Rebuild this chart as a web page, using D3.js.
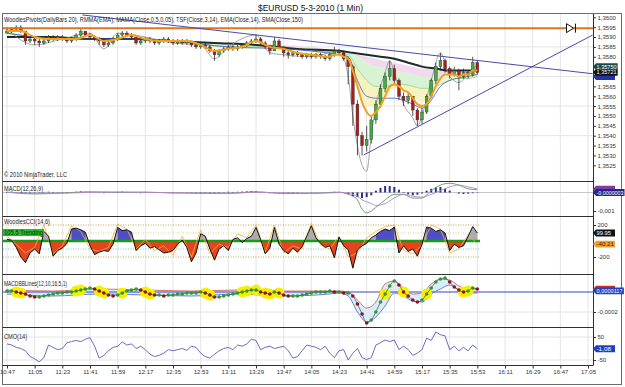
<!DOCTYPE html>
<html>
<head>
<meta charset="utf-8">
<script src="https://cdn.jsdelivr.net/npm/d3@7"></script>
<style>
  body { margin: 0; background: #fff; }
  svg { display: block; font-family: "Liberation Sans", Arial, sans-serif; }
</style>
</head>
<body>
<svg id="chart" width="625" height="387"></svg>
<script>
// ---- data (one candle = 3 minutes, index k) ----
const tickLabels = ['10:47', '11:05', '11:23', '11:41', '11:59', '12:17', '12:35', '12:53', '13:11', '13:29', '13:47',
  '14:05', '14:23', '14:41', '14:59', '15:17', '15:35', '15:53', '16:11', '16:29', '16:47', '17:05']
// 1,3570 and 1,3575 sit under the last-value boxes in the original
const priceTicks = [1.3525, 1.3530, 1.3535, 1.3540, 1.3545, 1.3550, 1.3555, 1.3560, 1.3565,
  1.3580, 1.3585, 1.3590, 1.3595, 1.3600]
const priceGrid = [1.3540, 1.3555, 1.3570, 1.3585]
const barMinutes = 3
const firstOpen = 1.3592

const close = [1.3593, 1.3594, 1.3595, 1.3593, 1.3588, 1.3589, 1.3588, 1.3587, 1.3588, 1.3590,
  1.3589, 1.3590, 1.3589, 1.3588, 1.3589, 1.3591, 1.3593, 1.3591, 1.3590, 1.3589,
  1.3588, 1.3586, 1.3587, 1.3589, 1.3591, 1.3592, 1.3591, 1.3590, 1.3587, 1.3588,
  1.3589, 1.3588, 1.3587, 1.3588, 1.3589, 1.3588, 1.3587, 1.3588, 1.3587, 1.3588,
  1.3586, 1.3585, 1.3586, 1.3585, 1.3583, 1.3581, 1.3583, 1.3584, 1.3585, 1.3584,
  1.3585, 1.3586, 1.3587, 1.3588, 1.3589, 1.3587, 1.3585, 1.3583, 1.3588, 1.3585,
  1.3582, 1.3581, 1.3582, 1.3581, 1.3580, 1.3581, 1.3580, 1.3581, 1.3580, 1.3579,
  1.3581, 1.3583, 1.3582, 1.3579, 1.3575, 1.3556, 1.3540, 1.3535, 1.3538, 1.3548,
  1.3556, 1.3564, 1.3570, 1.3574, 1.3568, 1.3560, 1.3558, 1.3560, 1.3553, 1.3548,
  1.3552, 1.3560, 1.3568, 1.3575, 1.3578, 1.3574, 1.3571, 1.3573, 1.3570, 1.3572,
  1.3571, 1.3577, 1.3572]
const high = [1.3595, 1.3595, 1.3596, 1.3596, 1.3593, 1.3590, 1.3590, 1.3589, 1.3589, 1.3591,
  1.3591, 1.3591, 1.3591, 1.3590, 1.3590, 1.3592, 1.3594, 1.3593, 1.3592, 1.3591,
  1.3590, 1.3588, 1.3588, 1.3590, 1.3592, 1.3593, 1.3593, 1.3592, 1.3590, 1.3589,
  1.3590, 1.3590, 1.3589, 1.3589, 1.3590, 1.3590, 1.3589, 1.3589, 1.3589, 1.3589,
  1.3588, 1.3587, 1.3587, 1.3587, 1.3586, 1.3584, 1.3584, 1.3585, 1.3586, 1.3586,
  1.3586, 1.3587, 1.3588, 1.3589, 1.3591, 1.3590, 1.3588, 1.3585, 1.3590, 1.3589,
  1.3585, 1.3583, 1.3583, 1.3583, 1.3582, 1.3582, 1.3582, 1.3582, 1.3582, 1.3581,
  1.3582, 1.3585, 1.3584, 1.3583, 1.3580, 1.3576, 1.3558, 1.3542, 1.3545, 1.3550,
  1.3558, 1.3566, 1.3572, 1.3578, 1.3576, 1.3569, 1.3562, 1.3562, 1.3560, 1.3554,
  1.3554, 1.3561, 1.3569, 1.3577, 1.3582, 1.3579, 1.3575, 1.3575, 1.3574, 1.3574,
  1.3573, 1.3580, 1.3578]
const low = [1.3592, 1.3592, 1.3593, 1.3592, 1.3586, 1.3587, 1.3586, 1.3585, 1.3586, 1.3587,
  1.3588, 1.3588, 1.3588, 1.3587, 1.3587, 1.3588, 1.3590, 1.3590, 1.3589, 1.3588,
  1.3586, 1.3585, 1.3585, 1.3586, 1.3588, 1.3590, 1.3590, 1.3589, 1.3586, 1.3586,
  1.3587, 1.3587, 1.3586, 1.3586, 1.3587, 1.3587, 1.3586, 1.3586, 1.3586, 1.3586,
  1.3585, 1.3584, 1.3584, 1.3584, 1.3582, 1.3578, 1.3580, 1.3582, 1.3583, 1.3583,
  1.3583, 1.3584, 1.3585, 1.3586, 1.3587, 1.3586, 1.3584, 1.3581, 1.3583, 1.3584,
  1.3580, 1.3579, 1.3580, 1.3580, 1.3579, 1.3579, 1.3579, 1.3579, 1.3579, 1.3578,
  1.3578, 1.3580, 1.3581, 1.3578, 1.3566, 1.3545, 1.3530, 1.3530, 1.3532, 1.3536,
  1.3546, 1.3554, 1.3562, 1.3568, 1.3566, 1.3558, 1.3555, 1.3556, 1.3550, 1.3545,
  1.3546, 1.3551, 1.3559, 1.3566, 1.3573, 1.3572, 1.3569, 1.3570, 1.3563, 1.3569,
  1.3569, 1.3570, 1.3571]

// overlays in the price panel (k index + value)
const emaAt = d3.range(0, 70, 3).concat(d3.range(70, 103))
const ema = [1.3593, 1.3593, 1.3590, 1.3589, 1.3589, 1.3589, 1.3591, 1.3588, 1.3589, 1.3591, 1.3589, 1.3588,
  1.3588, 1.3588, 1.3586, 1.3583, 1.3584, 1.3585, 1.3588, 1.3585, 1.3584, 1.3582, 1.3581, 1.3580,
  1.3580, 1.3581, 1.3581, 1.3580, 1.3579, 1.3573, 1.3565, 1.3557, 1.3552, 1.3550, 1.3552, 1.3555,
  1.3560, 1.3565, 1.3566, 1.3565, 1.3563, 1.3562, 1.3559, 1.3556, 1.3555, 1.3556, 1.3560, 1.3565,
  1.3569, 1.3571, 1.3571, 1.3571, 1.3570, 1.3571, 1.3571, 1.3573, 1.3573]
const smaAt = [0, 9, 18, 27, 36, 45, 54, 63, 72, 75, 78, 81, 84, 87, 90, 93, 96, 99, 102]
const sma = [1.3590, 1.3590, 1.3589, 1.3589, 1.3588, 1.3587, 1.3586, 1.3584, 1.3583, 1.3582, 1.3581,
  1.3580, 1.3579, 1.3577, 1.3575, 1.3574, 1.3573, 1.3573, 1.3573]
const ribbonAt = [0, 12, 24, 36, 48, 60, 66, 72, 74, 76, 78, 80, 82, 84, 86, 88, 90, 92, 94, 96, 98, 100, 102]
const ribbon1 = [1.3590, 1.3589, 1.3589, 1.3588, 1.3587, 1.3586, 1.3585, 1.3583, 1.3582, 1.3581, 1.3580, 1.3579,
  1.3578, 1.3577, 1.3576, 1.3575, 1.3574, 1.3574, 1.3573, 1.3573, 1.3573, 1.3572, 1.3572]
const ribbon2 = [1.3591, 1.3589, 1.3589, 1.3588, 1.3586, 1.3585, 1.3584, 1.3583, 1.3583, 1.3580, 1.3577, 1.3575,
  1.3574, 1.3573, 1.3572, 1.3571, 1.3570, 1.3570, 1.3570, 1.3571, 1.3571, 1.3571, 1.3571]
const ribbon3 = [1.3592, 1.3589, 1.3589, 1.3588, 1.3585, 1.3585, 1.3583, 1.3582, 1.3581, 1.3574, 1.3568, 1.3565,
  1.3565, 1.3566, 1.3566, 1.3565, 1.3564, 1.3564, 1.3566, 1.3568, 1.3569, 1.3569, 1.3570]
const ribbon4 = [1.3593, 1.3589, 1.3589, 1.3588, 1.3584, 1.3584, 1.3582, 1.3581, 1.3579, 1.3566, 1.3555, 1.3554,
  1.3559, 1.3564, 1.3563, 1.3560, 1.3557, 1.3561, 1.3567, 1.3570, 1.3570, 1.3570, 1.3571]
const mamaAt = [0, 12, 24, 36, 48, 60, 72, 74, 76, 78, 80, 84, 88, 90, 92, 94, 96, 100, 102]
const mama = [1.3592, 1.3589, 1.3589, 1.3588, 1.3585, 1.3584, 1.3581, 1.3580, 1.3568, 1.3560, 1.3559, 1.3559,
  1.3556, 1.3554, 1.3558, 1.3565, 1.3568, 1.3570, 1.3571]
const tsfAt = [0, 6, 12, 18, 21, 24, 30, 36, 42, 45, 48, 54, 57, 60, 66, 72, 74, 75, 76, 77, 78, 79, 80, 82, 83,
  84, 86, 88, 89, 90, 92, 94, 96, 98, 100, 102]
const tsf = [1.3594, 1.3586, 1.3589, 1.3592, 1.3584, 1.3592, 1.3590, 1.3587, 1.3586, 1.3579, 1.3585, 1.3591,
  1.3582, 1.3581, 1.3580, 1.3583, 1.3570, 1.3550, 1.3535, 1.3525, 1.3522, 1.3540, 1.3555, 1.3572, 1.3578,
  1.3572, 1.3556, 1.3549, 1.3545, 1.3550, 1.3568, 1.3582, 1.3570, 1.3567, 1.3571, 1.3576]
const pivotLevel = 1.35945
const trendLines = [
  [['11:36', 1.36012], ['17:08', 1.35714]],
  [['14:39', 1.35302], ['17:08', 1.35910]]
]

// MACD(12,26,9)
const macdAt = [0, 6, 12, 18, 24, 30, 36, 42, 48, 54, 60, 66, 70, 72, 74, 75, 76, 77, 78, 79, 80, 82, 84, 86, 88,
  90, 92, 94, 96, 98, 100, 102]
const macdLine = [0.00002, -0.00008, -0.00003, 0.00004, 0.00001, 0.00002, -0.00003, -0.00004, -0.00005, 0.00004,
  -0.00006, -0.00005, 0, 0.00002, -0.0001, -0.0002, -0.0004, -0.0009, -0.0011, -0.0010, -0.0008, -0.0004,
  -0.0001, -0.0001, -0.0003, -0.0003, 0.0001, 0.0004, 0.0005, 0.0004, 0.0002, 0.00015]
const macdSignal = [0.00001, -0.00004, -0.00004, 0.00001, 0.00002, 0.00001, -0.00001, -0.00003, -0.00004, 0.00001,
  -0.00002, -0.00004, -0.00002, 0, -0.00003, -0.0001, -0.0002, -0.0004, -0.0005, -0.0006, -0.0007, -0.0006,
  -0.0003, -0.0001, -0.0002, -0.00025, -0.0001, 0.0001, 0.0003, 0.0004, 0.0003, 0.0002]
const macdHistE4 = [0.3, 0.5, 0.2, -0.3, -0.5, -0.6, -0.4, -0.2, 0.2, 0.4,
  0.3, 0.2, -0.2, -0.3, 0.1, 0.4, 0.6, 0.4, 0.2, -0.1,
  -0.3, -0.4, -0.2, 0.2, 0.4, 0.5, 0.3, 0.1, -0.3, -0.4,
  -0.2, 0.1, 0.2, 0.1, -0.1, -0.2, -0.3, -0.2, 0.1, 0.2,
  -0.2, -0.4, -0.5, -0.4, -0.6, -0.7, -0.3, 0.2, 0.4, 0.3,
  0.4, 0.5, 0.6, 0.7, 0.6, 0.2, -0.2, -0.4, 0.3, 0.1,
  -0.3, -0.4, -0.3, -0.2, -0.1, 0.1, 0.2, 0.1, -0.1, 0.1,
  0.3, 0.4, 0.3, -0.2, -0.8, -2.0, -2.5, -3.0, -2.5, -1.5,
  1.0, 2.5, 3.5, 3.5, 3.0, 1.5, -0.3, -1.0, -1.5, -1.2,
  -0.5, 1.0, 2.0, 2.8, 3.0, 2.0, 1.0, 0.0, -0.6, -0.8,
  -0.6, -0.4, -0.2]

// WoodiesCCI(14,6)
const cci = [20, 10, -80, -200, -270, -150, -100, -160, 120, 60,
  -190, -120, -90, -30, 150, 160, 140, 110, -60, -170,
  -140, -120, -130, -40, 170, 130, 140, 110, -120, -60,
  -30, -90, -70, -110, -150, -140, -120, -40, 10, -80,
  -260, -150, 90, 60, -100, -240, -100, -60, -120, 20,
  40, -20, 30, 60, 170, 20, -160, -90, 170, -40,
  -120, -160, -90, -140, -70, 60, 190, 40, -30, -80,
  -60, -210, 50, -60, -110, -340, -110, -60, -30, 40,
  75, 120, 150, 130, 175, -150, -60, -130, -100, -190,
  -40, 175, 160, 120, 140, 100, -120, -40, -80, -60,
  60, 180, 100]
const turboAt = d3.range(0, 103, 2)
const turbo = [60, -40, -150, -80, 200, -160, -60, 190, 120, -100,
  -130, -80, 210, 150, -100, 20, -120, -60, -180, 60,
  -200, 140, -160, -40, -80, 90, 40, 200, -140, 200,
  -150, -60, -100, 220, -50, -100, 60, -200, -150, 40,
  120, 180, 200, -120, -160, -50, 200, 150, -150, -100,
  80, -40]
const cciTrendRanges = [[14, 17], [24, 27], [80, 84], [91, 95]]

// MACDBBLines(12,10,16,5,1), values in 1e-5
const bbMacdE5 = [1, 1, 0, -1, -2, -4, -5, -5, -4, -3,
  -2, -1, -1, 0, 0, 1, 2, 3, 4, 3,
  1, -1, -3, -4, -3, -1, 1, 2, 3, 2,
  0, -2, -3, -3, -4, -3, -3, -2, -2, -1,
  -1, -1, 0, -1, -3, -5, -5, -4, -3, -2,
  -1, 0, 1, 2, 2, 0, -1, -2, 0, -1,
  -3, -4, -4, -4, -3, -2, -1, 0, 0, 0,
  1, 0, 0, -1, -1, -4, -12, -22, -31, -28,
  -20, -10, -2, 6, 11, 7, 0, -4, -8, -10,
  -8, -2, 4, 10, 13, 14, 10, 5, 2, 0,
  1, 4, 3]
const bbAt = [0, 10, 20, 30, 40, 50, 60, 70, 72, 74, 76, 78, 80, 82, 84, 86, 88, 90, 92, 94, 96, 98, 100, 102]
const bbUpperE5 = [2, 1, 3, 2, 1, 2, 1, 1, 1, 0, -8, -16, -10, 8, 11, 4, -2, -1, 8, 13, 12, 6, 3, 3]
const bbLowerE5 = [-2, -4, -2, -3, -4, -2, -4, -2, -1, -4, -20, -30, -25, -14, -1, -4, -9, -10, -2, 3, 7, 2, -1, -1]
const bbGlowAt = [2, 3, 15, 16, 20, 21, 25, 30, 31, 43, 44, 51, 52, 54, 56, 57, 59, 82, 86, 91, 99, 100]

// CMO(14)
const cmo = [20, 15, 5, 0, -10, -35, -45, -58, -40, 15,
  5, -5, 0, 25, 30, 35, 30, 40, 47, 10,
  -42, -30, -10, 5, 10, 28, 15, 20, 0, 10,
  -5, -25, -35, -30, -20, -5, -10, -5, 0, -8,
  10, 5, -20, -35, -42, -25, -10, 0, 5, -5,
  15, 10, 20, 40, 35, -5, 5, 10, 0, 5,
  10, -10, -42, -35, -10, 15, 10, 5, -5, 10,
  -20, -40, -10, -5, -50, -20, 0, -40, -48, -40,
  15, 25, 37, 30, 37, -5, 10, -5, -30, -20,
  -5, 45, 35, 72, 60, 55, -5, 10, -10, 5,
  -10, 15, -1]

// last-value markers on the right axis (back boxes have their labels covered)
const priceMarkers = [[1.3570, '', '#2433a8'], [1.35721, '1,35721', '#111'], [1.3575, '1,35750', '#1f4a4a']]
const macdMarkers = [[0.00018, '', '#7a3fa0'], [-0.0000003, '-0,0000003', '#24248a']]
const cciMarkers = [[99.95, '99.95', '#111'], [-40.21, '-40.21', '#f0a030']]
const bbMarkers = [[0.0000277, '', '#c03030'], [0.0000117, '0,0000117', '#2040c0']]
const cmoMarkers = [[-1.08, '-1,08', '#2040c0']]

// ---- layout ----
const svg = d3.select('#chart')
const plotLeft = 3
const plotRight = 593
const panels = {
  price: { top: 14, bottom: 181 },
  macd: { top: 181, bottom: 216 },
  cci: { top: 216, bottom: 274 },
  bb: { top: 274, bottom: 327 },
  cmo: { top: 327, bottom: 365 }
}
const loc = d3.formatLocale({ decimal: ',', thousands: '.', grouping: [3], currency: ['', ''], minus: '-' })

const parseHM = d3.timeParse('%H:%M')
const t0 = parseHM(tickLabels[0])
const tickTimes = tickLabels.map(parseHM)
const barTime = k => d3.timeMinute.offset(t0, k * barMinutes)

const x = d3.scaleTime()
  .domain([t0, tickTimes[tickTimes.length - 1]])
  .range([7, 588])

const yP = d3.scaleLinear().domain([1.3525, 1.3600]).range([165.3, 17.3])
const yMacd = d3.scaleLinear().domain([-0.001, 0]).range([211, 192.5])
const yCci = d3.scaleLinear().domain([-200, 200]).range([257, 225])
const yBb = d3.scaleLinear().domain([-0.0002, 0]).range([312, 292])
const yCmo = d3.scaleLinear().domain([-50, 50]).range([360, 337])

const series = (at, vals, mult = 1) => at.map((k, i) => ({ t: barTime(k), v: vals[i] * mult }))
const lineOf = (y, curve = d3.curveMonotoneX) => d3.line().x(d => x(d.t)).y(d => y(d.v)).curve(curve)

const defs = svg.append('defs')
Object.entries(panels).forEach(([name, p]) => {
  defs.append('clipPath').attr('id', `clip-${name}`)
    .append('rect')
    .attr('x', plotLeft).attr('y', p.top)
    .attr('width', plotRight - plotLeft).attr('height', p.bottom - p.top)
})
const layer = name => svg.append('g').attr('clip-path', `url(#clip-${name})`)

// title
svg.append('text')
  .attr('x', 258).attr('y', 11)
  .attr('textLength', 105).attr('lengthAdjust', 'spacingAndGlyphs')
  .attr('font-size', 9.5).attr('fill', '#111')
  .text('$EURUSD  5-3-2010 (1 Min)')

// vertical grid in every panel
const grid = svg.append('g')
Object.values(panels).forEach(p => {
  grid.selectAll(null)
    .data(tickTimes)
    .enter()
    .append('line')
    .attr('x1', d => x(d)).attr('x2', d => x(d))
    .attr('y1', p.top).attr('y2', p.bottom)
    .attr('stroke', '#e4e4e4').attr('stroke-width', 1)
})
const hGrid = (values, y) => grid.selectAll(null)
  .data(values)
  .enter()
  .append('line')
  .attr('x1', plotLeft).attr('x2', plotRight)
  .attr('y1', d => y(d)).attr('y2', d => y(d))
  .attr('stroke', '#e4e4e4')
hGrid(priceGrid, yP)
hGrid([-0.0002], yBb)
hGrid([-50, 50], yCmo)

// ---- price panel ----
const pg = layer('price')
const ribbons = [ribbon1, ribbon2, ribbon3, ribbon4].map(r => series(ribbonAt, r))
const ribbonFills = ['#f3d9ef', '#d8f2d4', '#f8f2c0']
ribbonFills.forEach((color, i) => {
  const upper = ribbons[i]
  const lower = ribbons[i + 1]
  pg.append('path')
    .datum(upper.map((d, j) => ({ t: d.t, a: d.v, b: lower[j].v })))
    .attr('fill', color)
    .attr('d', d3.area().x(d => x(d.t)).y0(d => yP(d.a)).y1(d => yP(d.b)).curve(d3.curveMonotoneX))
})
pg.append('path').datum(ribbons[2]).attr('fill', 'none').attr('stroke', '#7fd07f').attr('stroke-width', 0.7)
  .attr('d', lineOf(yP))

pg.append('path').datum(series(smaAt, sma))
  .attr('fill', 'none').attr('stroke', '#1c2b2b').attr('stroke-width', 2)
  .attr('d', lineOf(yP))
pg.append('path').datum(series(mamaAt, mama))
  .attr('fill', 'none').attr('stroke', '#3a5ad0').attr('stroke-width', 0.8)
  .attr('d', lineOf(yP))
pg.append('path').datum(series(tsfAt, tsf))
  .attr('fill', 'none').attr('stroke', '#8c8c8c').attr('stroke-width', 0.8)
  .attr('d', lineOf(yP))

const candles = close.map((c, k) => ({ t: barTime(k), o: k ? close[k - 1] : firstOpen, h: high[k], l: low[k], c }))
const cg = pg.append('g')
cg.selectAll('line')
  .data(candles)
  .enter()
  .append('line')
  .attr('x1', d => x(d.t)).attr('x2', d => x(d.t))
  .attr('y1', d => yP(d.h)).attr('y2', d => yP(d.l))
  .attr('stroke', '#2a2a2a').attr('stroke-width', 0.8)
cg.selectAll('rect')
  .data(candles)
  .enter()
  .append('rect')
  .attr('x', d => x(d.t) - 1.4)
  .attr('width', 2.8)
  .attr('y', d => yP(Math.max(d.o, d.c)))
  .attr('height', d => Math.max(0.8, Math.abs(yP(d.o) - yP(d.c))))
  .attr('fill', d => d.c >= d.o ? '#3fae3f' : '#b01c1c')
  .attr('stroke', '#2a2a2a').attr('stroke-width', 0.4)

pg.append('path').datum(series(emaAt, ema))
  .attr('fill', 'none').attr('stroke', '#f0a21e').attr('stroke-width', 2)
  .attr('d', lineOf(yP))

pg.append('line')
  .attr('x1', plotLeft).attr('x2', plotRight)
  .attr('y1', yP(pivotLevel)).attr('y2', yP(pivotLevel))
  .attr('stroke', '#e07424').attr('stroke-width', 2)

trendLines.forEach(tl => {
  pg.append('line')
    .attr('x1', x(parseHM(tl[0][0]))).attr('y1', yP(tl[0][1]))
    .attr('x2', x(parseHM(tl[1][0]))).attr('y2', yP(tl[1][1]))
    .attr('stroke', '#4a4aa8').attr('stroke-width', 1)
})

// pivot end marker
const mx = x(parseHM('16:51'))
const my = yP(pivotLevel)
pg.append('path')
  .attr('d', `M${mx},${my - 4.5}L${mx + 7},${my}L${mx},${my + 4.5}Z M${mx + 9},${my - 4.5}V${my + 4.5}`)
  .attr('fill', '#fff').attr('stroke', '#111').attr('stroke-width', 1)

svg.append('text')
  .attr('x', 4).attr('y', 22)
  .attr('textLength', 299).attr('lengthAdjust', 'spacingAndGlyphs')
  .attr('font-size', 6.5).attr('fill', '#222')
  .text('WoodiesPivots(DailyBars 20), RMMA(EMA), MAMA(Close,0,5,0,05), TSF(Close,3,14), EMA(Close,14), SMA(Close,150)')
svg.append('text')
  .attr('x', 4).attr('y', 177)
  .attr('textLength', 63).attr('lengthAdjust', 'spacingAndGlyphs')
  .attr('font-size', 6.3).attr('fill', '#222')
  .text('© 2010 NinjaTrader, LLC')

// ---- MACD panel ----
const mg = layer('macd')
mg.append('line')
  .attr('x1', plotLeft).attr('x2', plotRight)
  .attr('y1', yMacd(0)).attr('y2', yMacd(0))
  .attr('stroke', '#c8c8c8')
mg.selectAll('rect')
  .data(macdHistE4)
  .enter()
  .append('rect')
  .attr('x', (d, k) => x(barTime(k)) - 1)
  .attr('width', 2)
  .attr('y', d => Math.min(yMacd(0), yMacd(d * 1e-4)))
  .attr('height', d => Math.abs(yMacd(d * 1e-4) - yMacd(0)))
  .attr('fill', '#2e2e8c')
mg.append('path').datum(series(macdAt, macdLine))
  .attr('fill', 'none').attr('stroke', '#5f9a5f').attr('stroke-width', 0.9)
  .attr('d', lineOf(yMacd))
mg.append('path').datum(series(macdAt, macdSignal))
  .attr('fill', 'none').attr('stroke', '#b486c8').attr('stroke-width', 0.9)
  .attr('d', lineOf(yMacd))
svg.append('text')
  .attr('x', 4).attr('y', 191)
  .attr('textLength', 39).attr('lengthAdjust', 'spacingAndGlyphs')
  .attr('font-size', 6.5).attr('fill', '#222')
  .text('MACD(12,26,9)')

// ---- CCI panel ----
const ccg = layer('cci')
const cciLevels = [[200, '#d6a24a'], [100, '#e2d96a'], [-100, '#6cd0e0'], [-200, '#d6a24a']]
ccg.selectAll('line.level')
  .data(cciLevels)
  .enter()
  .append('line')
  .attr('x1', plotLeft).attr('x2', 480)
  .attr('y1', d => yCci(d[0])).attr('y2', d => yCci(d[0]))
  .attr('stroke', d => d[1]).attr('stroke-dasharray', '1,1.5')

const cciPts = cci.map((v, k) => ({ t: barTime(k), v, k }))
const cciArea = d3.area().x(d => x(d.t)).y0(yCci(0)).y1(d => yCci(d.v))
defs.append('clipPath').attr('id', 'cci-pos').append('rect')
  .attr('x', plotLeft).attr('y', panels.cci.top).attr('width', plotRight - plotLeft)
  .attr('height', yCci(0) - panels.cci.top)
defs.append('clipPath').attr('id', 'cci-neg').append('rect')
  .attr('x', plotLeft).attr('y', yCci(0)).attr('width', plotRight - plotLeft)
  .attr('height', panels.cci.bottom - yCci(0))
ccg.append('path').datum(cciPts).attr('clip-path', 'url(#cci-neg)')
  .attr('fill', '#e8421e').attr('d', cciArea)
ccg.append('path').datum(cciPts).attr('clip-path', 'url(#cci-pos)')
  .attr('fill', '#acacac').attr('d', cciArea)
cciTrendRanges.forEach(([a, b]) => {
  ccg.append('path').datum(cciPts.slice(a, b + 1)).attr('clip-path', 'url(#cci-pos)')
    .attr('fill', '#4f4fc4').attr('d', cciArea)
})
ccg.append('line')
  .attr('x1', plotLeft).attr('x2', 480)
  .attr('y1', yCci(0)).attr('y2', yCci(0))
  .attr('stroke', '#179c17').attr('stroke-width', 2.5)
ccg.append('path').datum(series(turboAt, turbo))
  .attr('fill', 'none').attr('stroke', '#f0b040').attr('stroke-width', 0.8)
  .attr('d', lineOf(yCci, d3.curveLinear))
ccg.append('path').datum(cciPts)
  .attr('fill', 'none').attr('stroke', '#111').attr('stroke-width', 1)
  .attr('d', lineOf(yCci, d3.curveLinear))
svg.append('text')
  .attr('x', 4).attr('y', 224)
  .attr('textLength', 46).attr('lengthAdjust', 'spacingAndGlyphs')
  .attr('font-size', 6.5).attr('fill', '#222')
  .text('WoodiesCCI(14,6)')
svg.append('rect').attr('x', 3).attr('y', 229).attr('width', 41).attr('height', 7).attr('fill', '#22c022')
svg.append('text')
  .attr('x', 4).attr('y', 235)
  .attr('textLength', 39).attr('lengthAdjust', 'spacingAndGlyphs')
  .attr('font-size', 6.3).attr('fill', '#0c300c')
  .text('105.5 Trending')

// ---- MACDBBLines panel ----
const bg = layer('bb')
const bbUpper = series(bbAt, bbUpperE5, 1e-5)
const bbLower = series(bbAt, bbLowerE5, 1e-5)
bg.append('path')
  .datum(bbUpper.map((d, i) => ({ t: d.t, a: d.v, b: bbLower[i].v })))
  .attr('fill', '#d9ecf8')
  .attr('d', d3.area().x(d => x(d.t)).y0(d => yBb(d.a)).y1(d => yBb(d.b)).curve(d3.curveMonotoneX))
bg.append('line')
  .attr('x1', plotLeft).attr('x2', plotRight)
  .attr('y1', yBb(0)).attr('y2', yBb(0))
  .attr('stroke', '#3444c4').attr('stroke-width', 1)
bg.append('path').datum(bbUpper)
  .attr('fill', 'none').attr('stroke', '#d25050').attr('stroke-width', 0.8)
  .attr('d', lineOf(yBb))
bg.append('path').datum(bbLower)
  .attr('fill', 'none').attr('stroke', '#4a62d2').attr('stroke-width', 0.8)
  .attr('d', lineOf(yBb))
bg.selectAll('circle.glow')
  .data(bbGlowAt)
  .enter()
  .append('circle')
  .attr('cx', k => x(barTime(k)))
  .attr('cy', k => yBb(bbMacdE5[k] * 1e-5))
  .attr('r', 5.5)
  .attr('fill', '#f6f000')
bg.append('path').datum(series(d3.range(bbMacdE5.length), bbMacdE5, 1e-5))
  .attr('fill', 'none').attr('stroke', '#333').attr('stroke-width', 0.6)
  .attr('d', lineOf(yBb))
bg.selectAll('circle.dot')
  .data(bbMacdE5)
  .enter()
  .append('circle')
  .attr('cx', (d, k) => x(barTime(k)))
  .attr('cy', d => yBb(d * 1e-5))
  .attr('r', 1.8)
  .attr('fill', (d, k) => k > 0 && d < bbMacdE5[k - 1] ? '#8c1414' : '#2e9a2e')
svg.append('text')
  .attr('x', 4).attr('y', 286)
  .attr('textLength', 63).attr('lengthAdjust', 'spacingAndGlyphs')
  .attr('font-size', 6.5).attr('fill', '#222')
  .text('MACDBBLines(12,10,16,5,1)')

// ---- CMO panel ----
const og = layer('cmo')
og.append('path').datum(series(d3.range(cmo.length), cmo))
  .attr('fill', 'none').attr('stroke', '#4646b4').attr('stroke-width', 0.8)
  .attr('d', lineOf(yCmo, d3.curveLinear))
svg.append('text')
  .attr('x', 4).attr('y', 339)
  .attr('textLength', 23).attr('lengthAdjust', 'spacingAndGlyphs')
  .attr('font-size', 6.5).attr('fill', '#222')
  .text('CMO(14)')

// ---- frame and axes ----
const frame = svg.append('g').attr('stroke', '#303030').attr('fill', 'none')
frame.append('rect').attr('x', 2.5).attr('y', 13.5).attr('width', 619).attr('height', 371).attr('stroke', '#6a6a6a')
;[181, 216, 274, 327, 365].forEach(y => {
  frame.append('line').attr('x1', 2.5).attr('x2', plotRight).attr('y1', y + 0.5).attr('y2', y + 0.5)
})
frame.append('line').attr('x1', plotRight + 0.5).attr('x2', plotRight + 0.5).attr('y1', 14).attr('y2', 365.5)

const styleAxis = g => {
  g.select('.domain').remove()
  g.selectAll('.tick line').attr('stroke', '#333')
  g.selectAll('text').attr('font-size', 6).attr('fill', '#333')
    .attr('font-family', '"Liberation Sans", Arial, sans-serif')
}
const rightAxis = (y, values, fmt) => svg.append('g')
  .attr('transform', `translate(${plotRight + 0.5},0)`)
  .call(d3.axisRight(y).tickValues(values).tickFormat(fmt).tickSize(2.5).tickPadding(1.5))
  .call(styleAxis)
rightAxis(yP, priceTicks, loc.format('.4f'))
rightAxis(yMacd, [-0.001], loc.format('.3f'))
rightAxis(yCci, [-200, 200], loc.format('d'))
rightAxis(yBb, [-0.0002], loc.format('.4f'))
rightAxis(yCmo, [-50, 50], loc.format('d'))

svg.append('g')
  .attr('transform', 'translate(0,365.5)')
  .call(d3.axisBottom(x).tickValues(tickTimes).tickFormat(d3.timeFormat('%H:%M')).tickSize(3).tickPadding(1.5))
  .call(styleAxis)

// value boxes
const markers = (y, list) => list.forEach(([v, label, color]) => {
  const cy = y(v)
  const w = Math.min(31.5, Math.max(22, label.length * 3.1 + 3))
  svg.append('path')
    .attr('d', `M${plotRight},${cy}L${plotRight + 3},${cy - 3.4}H${plotRight + w}V${cy + 3.4}H${plotRight + 3}Z`)
    .attr('fill', color)
  if (label) {
    svg.append('text')
      .attr('x', plotRight + 3.5).attr('y', cy + 2)
      .attr('textLength', Math.min(w - 4.5, label.length * 2.9)).attr('lengthAdjust', 'spacingAndGlyphs')
      .attr('font-size', 5.6).attr('fill', color === '#f0a030' ? '#3a2200' : '#fff')
      .text(label)
  }
})
markers(yP, priceMarkers)
markers(yMacd, macdMarkers)
markers(yCci, cciMarkers)
markers(yBb, bbMarkers)
markers(yCmo, cmoMarkers)
</script>
</body>
</html>
